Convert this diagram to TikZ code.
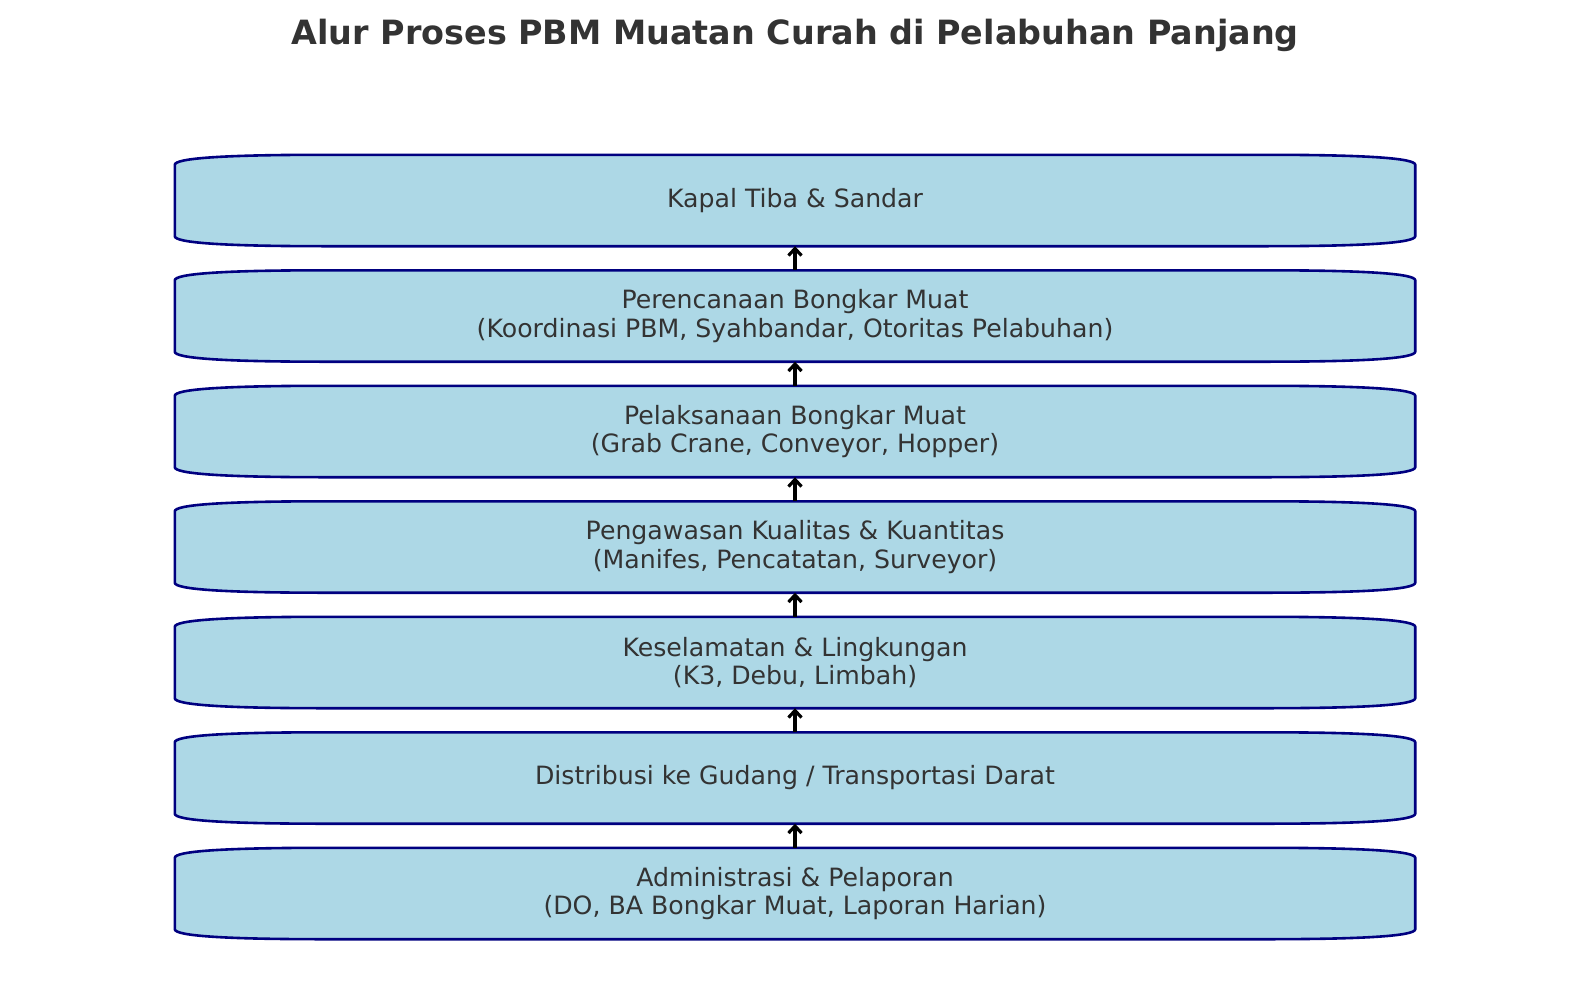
\documentclass[tikz,border=0pt]{standalone}
\usepackage{fontspec}
\setmainfont{DejaVu Sans}
\usepackage{tikz}
\usetikzlibrary{arrows.meta}
\usetikzlibrary{backgrounds}
\definecolor{boxfill}{HTML}{ADD8E6}
\definecolor{boxedge}{HTML}{000080}
\definecolor{textgray}{HTML}{333333}
\tikzset{
  stepbox/.style={minimum width=1240pt, minimum height=91pt, inner sep=0pt,
                  align=center, text=textgray, font=\fontsize{25.2}{28.6}\selectfont},
  boxline/.style={draw=boxedge, fill=boxfill, line width=2.6pt},
  flowarrow/.style={line width=3.2pt, -{Straight Barb[length=7pt,width=13pt]}}
}
\newcommand\stepshape[1]{% outline round a step node, wide flat corners
\path[boxline] ([yshift=-10pt]#1.north west) .. controls +(0,6.7pt) and +(-100pt,0) .. ([xshift=150pt]#1.north west)
  -- ([xshift=-150pt]#1.north east) .. controls +(100pt,0) and +(0,6.7pt) .. ([yshift=-10pt]#1.north east)
  -- ([yshift=10pt]#1.south east) .. controls +(0,-6.7pt) and +(100pt,0) .. ([xshift=-150pt]#1.south east)
  -- ([xshift=150pt]#1.south west) .. controls +(-100pt,0) and +(0,-6.7pt) .. ([yshift=10pt]#1.south west) -- cycle;
}
\begin{document}
\begin{tikzpicture}[x=1pt, y=1pt]
	\useasboundingbox (0,0) rectangle (1589,-1006);
	%% title
	\node[text=textgray, font=\fontsize{33.4}{40}\selectfont\bfseries] (title) at (795,-35.5) {Alur Proses PBM Muatan Curah di Pelabuhan Panjang};
	%% steps
	\node[stepbox] (kapal) at (795,-200.5) {Kapal Tiba \& Sandar};
	\node[stepbox] (rencana) at (795,-316) {Perencanaan Bongkar Muat\\(Koordinasi PBM, Syahbandar, Otoritas Pelabuhan)};
	\node[stepbox] (laksana) at (795,-431.5) {Pelaksanaan Bongkar Muat\\(Grab Crane, Conveyor, Hopper)};
	\node[stepbox] (awas) at (795,-547) {Pengawasan Kualitas \& Kuantitas\\(Manifes, Pencatatan, Surveyor)};
	\node[stepbox] (k3) at (795,-662.5) {Keselamatan \& Lingkungan\\(K3, Debu, Limbah)};
	\node[stepbox] (distribusi) at (795,-778) {Distribusi ke Gudang / Transportasi Darat};
	\node[stepbox] (admin) at (795,-893.5) {Administrasi \& Pelaporan\\(DO, BA Bongkar Muat, Laporan Harian)};
	%% box outlines behind the text
	\begin{scope}[on background layer]
		\stepshape{kapal}
		\stepshape{rencana}
		\stepshape{laksana}
		\stepshape{awas}
		\stepshape{k3}
		\stepshape{distribusi}
		\stepshape{admin}
	\end{scope}
	%% arrows
	\draw[flowarrow] (rencana.north) -- (kapal.south);
	\draw[flowarrow] (laksana.north) -- (rencana.south);
	\draw[flowarrow] (awas.north) -- (laksana.south);
	\draw[flowarrow] (k3.north) -- (awas.south);
	\draw[flowarrow] (distribusi.north) -- (k3.south);
	\draw[flowarrow] (admin.north) -- (distribusi.south);
\end{tikzpicture}
\end{document}
